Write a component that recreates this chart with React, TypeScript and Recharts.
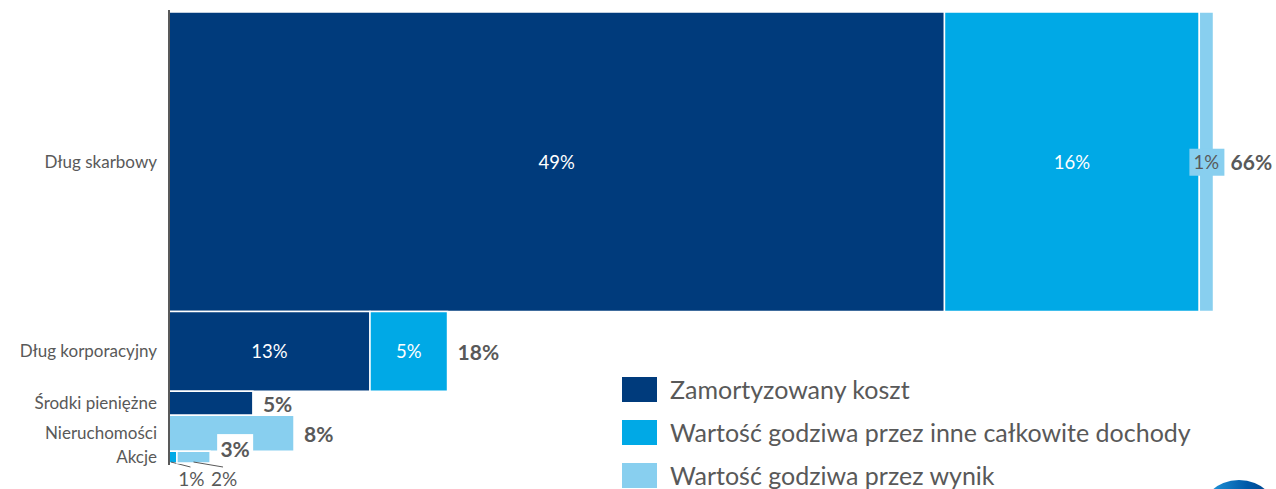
import React from "react";
import { ComposedChart, XAxis, YAxis, ReferenceArea, Scatter } from "recharts";

const categories = [
  "Dług skarbowy",
  "Dług korporacyjny",
  "Środki pieniężne",
  "Nieruchomości",
  "Akcje",
];
const seriesNames = [
  "Zamortyzowany koszt",
  "Wartość godziwa przez inne całkowite dochody",
  "Wartość godziwa przez wynik",
];
const amortised = [49.0, 12.7, 5.3, 0, 0];
const fairOci = [16.1, 4.9, 0, 0, 0.5];
const fairPnl = [0.9, 0, 0, 7.9, 2.1];
const amortisedLabels = ["49%", "13%", "", "", ""];
const fairOciLabels = ["16%", "5%", "", "", "1%"];
const fairPnlLabels = ["1%", "", "", "", "2%"];
const totalLabels = ["66%", "18%", "5%", "8%", "3%"];

const COLORS = ["#003b7c", "#00a9e6", "#88cfef"];
const GRAY = "#595959";
const FONT = "Lato, 'Open Sans', sans-serif";

const seriesValues = [amortised, fairOci, fairPnl];
const seriesLabels = [amortisedLabels, fairOciLabels, fairPnlLabels];

const totals = categories.map((_, i) =>
  seriesValues.reduce((s, arr) => s + arr[i], 0)
);
const rowTops: number[] = [];
totals.reduce((acc, t, i) => {
  rowTops[i] = acc;
  return acc + t;
}, 0);
const yMax = totals.reduce((a, b) => a + b, 0);
const mids = totals.map((t, i) => rowTops[i] + t / 2);

const rows = categories.map((name, i) => ({
  name,
  x: totals[i],
  y: mids[i],
  label: totalLabels[i],
  idx: i,
}));

// leader-line offsets for the tiny Akcje pieces
const calloutDx = [0, 18.5, 30.5];

const makeLabel = (text: string, row: number, series: number) => (props: any) => {
  const vb = props.viewBox || {};
  const { x, y, width, height } = vb;
  if (!text) return null;
  const cx = x + width / 2;
  const cy = y + height / 2;
  if (row === categories.length - 1) {
    const lx = cx + calloutDx[series];
    const bottom = y + height;
    const sx = series === 1 ? x + 2 : cx;
    return (
      <g>
        <line x1={sx} y1={bottom - 1} x2={lx - 1} y2={bottom + 4} stroke={GRAY} strokeWidth={1} />
        <text
          x={lx}
          y={bottom + 15}
          fill={GRAY}
          fontSize={19}
          fontFamily={FONT}
          textAnchor="middle"
          dominantBaseline="central">
          {text}
        </text>
      </g>
    );
  }
  if (width >= 30) {
    return (
      <text
        x={cx}
        y={cy}
        fill="#fff"
        fontSize={18.5}
        fontFamily={FONT}
        textAnchor="middle"
        dominantBaseline="central">
        {text}
      </text>
    );
  }
  return (
    <g>
      <rect x={cx - 17} y={cy - 13} width={35} height={27} fill={COLORS[series]} />
      <text
        x={cx}
        y={cy}
        fill={GRAY}
        fontSize={18.5}
        fontFamily={FONT}
        textAnchor="middle"
        dominantBaseline="central">
        {text}
      </text>
    </g>
  );
};

const TotalLabel = (props: any) => {
  const { cx, cy, payload } = props;
  const style = {
    fill: GRAY,
    fontSize: 21,
    fontWeight: 700,
    fontFamily: FONT,
    dominantBaseline: "central" as const,
  };
  if (payload.idx === 0) {
    return (
      <text x={cx + 17} y={cy} {...style}>
        {payload.label}
      </text>
    );
  }
  if (payload.idx === categories.length - 1) {
    return (
      <g>
        <rect x={cx + 7} y={cy - 23} width={36} height={23} fill="#fff" />
        <text x={cx + 25} y={cy - 9} textAnchor="middle" {...style}>
          {payload.label}
        </text>
      </g>
    );
  }
  return (
    <text x={cx + 10} y={cy} {...style}>
      {payload.label}
    </text>
  );
};

const LegendBox = () => (
  <div style={{ position: "absolute", left: 622, top: 377, fontFamily: FONT }}>
    {seriesNames.map((n, i) => (
      <div
        key={n}
        style={{
          display: "flex",
          alignItems: "center",
          height: 25,
          marginBottom: 18,
        }}>
        <div
          style={{
            width: 35,
            height: 25,
            background: COLORS[i],
            marginRight: 13,
          }}
        />
        <span style={{ fontSize: 25, color: GRAY, lineHeight: "25px", whiteSpace: "nowrap" }}>
          {n}
        </span>
      </div>
    ))}
  </div>
);

export default function App() {
  return (
    <div
      style={{
        position: "absolute",
        left: 0,
        top: 0,
        width: 1276,
        height: 489,
        background: "#fff",
        fontFamily: FONT,
        overflow: "hidden",
      }}>
      <ComposedChart
        width={1276}
        height={489}
        data={rows}
        margin={{ top: 10, right: 15, bottom: 24, left: 0 }}>
        <XAxis type="number" dataKey="x" domain={[0, 69]} hide />
        <YAxis
          type="number"
          dataKey="y"
          domain={[0, yMax]}
          reversed
          width={169}
          padding={{ top: 2, bottom: 2 }}
          ticks={mids}
          interval={0}
          tickFormatter={(_v: number, i: number) => categories[i]}
          tickLine={false}
          tickSize={6}
          tickMargin={6}
          axisLine={{ stroke: GRAY, strokeWidth: 2 }}
          tick={{ fill: GRAY, fontSize: 17, fontFamily: FONT }}
        />
        {categories.map((_, r) => {
          let start = 0;
          return seriesValues.map((arr, s) => {
            const v = arr[r];
            const x1 = start;
            start += v;
            if (v <= 0) return null;
            return (
              <ReferenceArea
                key={`${r}-${s}`}
                x1={x1}
                x2={x1 + v}
                y1={rowTops[r]}
                y2={rowTops[r] + totals[r]}
                fill={COLORS[s]}
                fillOpacity={1}
                stroke="#fff"
                strokeWidth={1.5}
                label={makeLabel(seriesLabels[s][r], r, s)}
              />
            );
          });
        })}
        <Scatter
          dataKey="y"
          isAnimationActive={false}
          shape={(p: any) => <TotalLabel {...p} />}
        />
      </ComposedChart>
      <LegendBox />
      <svg
        width={1276}
        height={489}
        style={{ position: "absolute", left: 0, top: 0, pointerEvents: "none" }}>
        <defs>
          <linearGradient id="logoGrad" x1="0" y1="0" x2="1" y2="0">
            <stop offset="0%" stopColor="#2aa6e6" />
            <stop offset="60%" stopColor="#0059a8" />
            <stop offset="100%" stopColor="#003a80" />
          </linearGradient>
        </defs>
        <circle cx={1239} cy={521} r={41} fill="url(#logoGrad)" />
      </svg>
    </div>
  );
}
